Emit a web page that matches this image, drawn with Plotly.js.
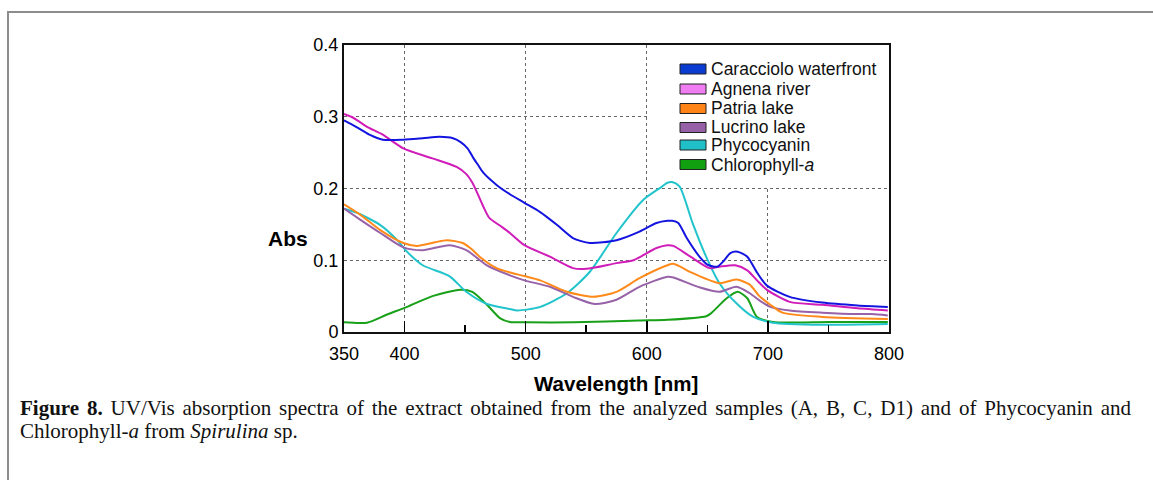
<!DOCTYPE html>
<html>
<head>
<meta charset="utf-8">
<script src="https://cdn.plot.ly/plotly-3.0.1.min.js"></script>
<style>
  html, body { margin: 0; padding: 0; background: #fff; }
  body { width: 1153px; height: 480px; position: relative; overflow: hidden; }
  #frame { position: absolute; left: 7px; top: 11px; width: 1160px; height: 480px;
           border-left: 2px solid #8c8c8c; border-top: 2px solid #8c8c8c; box-sizing: border-box; }
  #chart { position: absolute; left: 0; top: 0; width: 1153px; height: 480px; }
  #caption { position: absolute; left: 20px; top: 397px; width: 1111px;
             font-family: "Liberation Serif", "DejaVu Serif", serif; font-size: 21px;
             line-height: 23px; color: #111; }
  #caption .l1 { text-align: justify; text-align-last: justify; white-space: nowrap; }
</style>
</head>
<body>
<div id="frame"></div>
<div id="chart"></div>
<div id="caption">
  <div class="l1"><b>Figure 8.</b> UV/Vis absorption spectra of the extract obtained from the analyzed samples (A, B, C, D1) and of Phycocyanin and</div>
  <div>Chlorophyll-<i>a</i> from <i>Spirulina</i> sp.</div>
</div>
<script>
// ---- data (wavelength in nm, absorbance) ----
const seriesNames = ["Caracciolo waterfront", "Agnena river", "Patria lake", "Lucrino lake", "Phycocyanin", "Chlorophyll-<i>a</i>"];

const caraccioloWl = [350, 360, 371, 382, 399, 415, 429, 440, 446, 452, 457, 461, 465, 476, 487, 499, 512, 526, 539, 553, 575, 594, 608, 617, 621, 626, 633, 644, 650, 658, 664, 669, 675, 683, 691, 699, 718, 745, 774, 799];
const caraccioloAbs = [0.295, 0.286, 0.275, 0.268, 0.268, 0.270, 0.272, 0.270, 0.265, 0.256, 0.242, 0.232, 0.222, 0.205, 0.192, 0.180, 0.167, 0.149, 0.131, 0.124, 0.128, 0.140, 0.152, 0.155, 0.155, 0.152, 0.131, 0.104, 0.094, 0.091, 0.100, 0.110, 0.112, 0.105, 0.083, 0.065, 0.049, 0.041, 0.037, 0.035];

const agnenaWl = [350, 356, 361, 369, 382, 399, 423, 443, 451, 456, 460, 465, 470, 479, 487, 499, 520, 539, 550, 575, 589, 608, 617, 622, 636, 652, 660, 673, 683, 691, 699, 718, 745, 774, 799];
const agnenaAbs = [0.304, 0.300, 0.295, 0.286, 0.275, 0.256, 0.242, 0.230, 0.220, 0.208, 0.194, 0.175, 0.159, 0.148, 0.138, 0.121, 0.105, 0.089, 0.088, 0.096, 0.100, 0.117, 0.121, 0.120, 0.105, 0.089, 0.091, 0.093, 0.086, 0.072, 0.059, 0.042, 0.038, 0.033, 0.030];

const patriaWl = [350, 363, 380, 399, 410, 425, 435, 448, 455, 462, 476, 487, 499, 512, 534, 556, 575, 594, 617, 622, 638, 660, 674, 685, 693, 702, 712, 745, 799];
const patriaAbs = [0.178, 0.164, 0.142, 0.124, 0.120, 0.125, 0.128, 0.124, 0.116, 0.105, 0.089, 0.083, 0.078, 0.072, 0.056, 0.049, 0.056, 0.075, 0.093, 0.095, 0.082, 0.068, 0.073, 0.066, 0.050, 0.038, 0.027, 0.021, 0.018];

const lucrinoWl = [350, 363, 380, 399, 415, 437, 451, 460, 468, 487, 499, 520, 539, 557, 575, 594, 617, 622, 644, 660, 674, 685, 693, 702, 718, 745, 774, 786, 799];
const lucrinoAbs = [0.172, 0.157, 0.138, 0.118, 0.114, 0.121, 0.114, 0.103, 0.093, 0.079, 0.072, 0.063, 0.049, 0.039, 0.045, 0.063, 0.077, 0.076, 0.062, 0.056, 0.063, 0.054, 0.044, 0.035, 0.030, 0.027, 0.025, 0.025, 0.023];

const phycoWl = [350, 361, 380, 394, 402, 415, 437, 451, 468, 487, 493, 512, 534, 553, 575, 597, 612, 617, 621, 627, 638, 649, 660, 674, 688, 704, 745, 799];
const phycoAbs = [0.172, 0.166, 0.149, 0.128, 0.112, 0.093, 0.078, 0.056, 0.039, 0.032, 0.030, 0.035, 0.054, 0.084, 0.138, 0.184, 0.202, 0.208, 0.209, 0.203, 0.151, 0.105, 0.068, 0.040, 0.021, 0.013, 0.010, 0.011];

const chloroWl = [350, 369, 385, 402, 423, 446, 456, 468, 479, 487, 500, 540, 594, 617, 649, 653, 666, 675, 683, 691, 704, 750, 799];
const chloroAbs = [0.0135, 0.013, 0.024, 0.035, 0.050, 0.059, 0.056, 0.038, 0.019, 0.014, 0.0135, 0.0135, 0.016, 0.017, 0.022, 0.026, 0.047, 0.056, 0.047, 0.021, 0.014, 0.014, 0.014];

const xTickVals = [350, 400, 500, 600, 700, 800];
const xMinorVals = [450, 550, 650, 750];
const yTickVals = [0, 0.1, 0.2, 0.3, 0.4];
const yTickText = ["0", "0.1", "0.2", "0.3", "0.4"];

// ---- styling ----
const lineColors = ["#1414e0", "#d01cb8", "#ff8a1a", "#9862a8", "#22c4cc", "#18a018"];
const legendColors = ["#0a3cd2", "#f07cf2", "#ff8418", "#9560a5", "#1fc0c8", "#10a010"];

const xs = [caraccioloWl, agnenaWl, patriaWl, lucrinoWl, phycoWl, chloroWl];
const ys = [caraccioloAbs, agnenaAbs, patriaAbs, lucrinoAbs, phycoAbs, chloroAbs];

const order = [5, 4, 3, 2, 1, 0];
const traces = order.map(i => ({
  type: "scatter", mode: "lines", x: xs[i], y: ys[i], name: seriesNames[i],
  line: { color: lineColors[i], width: 2, shape: "spline", smoothing: 0.7 },
  showlegend: false, hoverinfo: "skip"
}));

// plot area in pixels
const L = 344, R = 889, T = 45, B = 332, W = 1153, H = 480;
const px = v => (v - L) / (R - L);
const py = v => (B - v) / (B - T);

const font = "Liberation Sans, Arial, sans-serif";
const shapes = [
  { type: "rect", layer: "between", xref: "x", yref: "y", x0: 601, x1: 800, y0: 0.2015, y1: 0.4,
    fillcolor: "#fff", line: { width: 0 } }
];
const annotations = [
  { text: "<b>Abs</b>", xref: "paper", yref: "paper", x: px(288), y: py(238), showarrow: false,
    xanchor: "center", yanchor: "middle", font: { family: font, size: 21, color: "#000" } },
  { text: "<b>Wavelength [nm]</b>", xref: "paper", yref: "paper", x: px(616), y: py(383), showarrow: false,
    xanchor: "center", yanchor: "middle", font: { family: font, size: 20.5, color: "#000" } }
];
const rowY = [69, 89, 108.5, 127.5, 145, 164.5];
seriesNames.forEach((n, i) => {
  shapes.push({ type: "rect", layer: "above", xref: "paper", yref: "paper",
    x0: px(680), x1: px(706), y0: py(rowY[i] + 5), y1: py(rowY[i] - 5),
    fillcolor: legendColors[i], line: { color: "#222", width: 1 } });
  annotations.push({ text: n, xref: "paper", yref: "paper", x: px(709), y: py(rowY[i]), showarrow: false,
    xanchor: "left", yanchor: "middle", font: { family: font, size: 17.5, color: "#111" } });
});

const layout = {
  width: W, height: H,
  margin: { l: L, r: W - R, t: T, b: H - B, pad: 0 },
  paper_bgcolor: "rgba(0,0,0,0)", plot_bgcolor: "#fff",
  showlegend: false,
  font: { family: font, size: 18, color: "#000" },
  xaxis: {
    range: [350, 800], tickvals: xTickVals, ticks: "inside", ticklen: 11, tickwidth: 1.5, tickcolor: "#000",
    ticklabelstandoff: 4,
    showgrid: true, gridcolor: "#666", griddash: "dot", gridwidth: 1,
    minor: { tickvals: xMinorVals, ticks: "inside", ticklen: 7, tickwidth: 1.5, tickcolor: "#000", showgrid: false },
    showline: true, mirror: true, linecolor: "#111", linewidth: 2, zeroline: false,
    tickfont: { family: font, size: 18, color: "#000" }, fixedrange: true
  },
  yaxis: {
    range: [0, 0.4], tickvals: yTickVals, ticktext: yTickText, ticks: "",
    showgrid: true, gridcolor: "#666", griddash: "dot", gridwidth: 1,
    showline: true, mirror: true, linecolor: "#111", linewidth: 2, zeroline: false,
    tickfont: { family: font, size: 18, color: "#000" }, fixedrange: true
  },
  shapes: shapes,
  annotations: annotations
};

Plotly.newPlot("chart", traces, layout, { staticPlot: true, displayModeBar: false });
</script>
</body>
</html>
